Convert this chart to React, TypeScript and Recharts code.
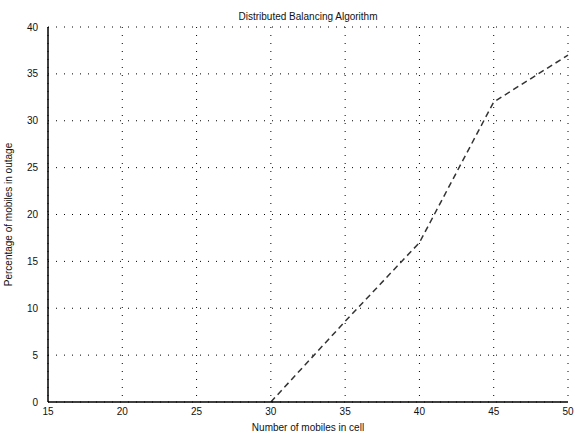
import { CartesianGrid, Label, Line, LineChart, XAxis, YAxis } from "recharts";

// Values.
const MOBILES = [30, 35, 40, 45, 48, 50];
const OUTAGE = [0, 8.6, 17, 32, 35, 37];

const X_TICKS = [15, 20, 25, 30, 35, 40, 45, 50];
const Y_TICKS = [0, 5, 10, 15, 20, 25, 30, 35, 40];

const FONT = '"Liberation Sans", Arial, sans-serif';

const data = MOBILES.map((m, i) => ({ mobiles: m, outage: OUTAGE[i] }));

const blank = () => "";

// shared props for the axes that only carry inward tick marks (matlab style box)
const xTickAxis = {
  dataKey: "mobiles",
  type: "number" as const,
  domain: [15, 50],
  ticks: X_TICKS,
  interval: 0,
  height: 0,
  mirror: true,
  tickSize: 5,
  tickFormatter: blank,
  stroke: "#000",
  strokeWidth: 1.5,
};

const yTickAxis = {
  type: "number" as const,
  domain: [0, 40],
  ticks: Y_TICKS,
  interval: 0,
  width: 0,
  mirror: true,
  tickSize: 5,
  tickFormatter: blank,
  stroke: "#000",
  strokeWidth: 1.5,
};

export default function App() {
  return (
    <div
      style={{
        position: "absolute",
        left: 0,
        top: 0,
        width: 578,
        height: 437,
        background: "#fff",
        fontFamily: FONT,
      }}
    >
      <div
        style={{
          position: "absolute",
          top: 11,
          left: 308,
          transform: "translateX(-50%)",
          fontSize: 10,
          whiteSpace: "nowrap",
          color: "#111",
        }}
      >
        Distributed Balancing Algorithm
      </div>
      <LineChart
        width={578}
        height={437}
        data={data}
        margin={{ top: 27, right: 10, bottom: 0, left: 0 }}
        style={{ fontFamily: FONT }}
      >
        <CartesianGrid
          xAxisId="bottom"
          yAxisId="left"
          stroke="#000"
          strokeDasharray="1 7"
          strokeWidth={1}
        />
        <XAxis xAxisId="bottomTicks" orientation="bottom" {...xTickAxis} />
        <XAxis
          xAxisId="bottom"
          dataKey="mobiles"
          type="number"
          domain={[15, 50]}
          ticks={X_TICKS}
          interval={0}
          height={35}
          tickLine={false}
          tickMargin={0}
          tick={{ fontSize: 10, fill: "#111" }}
          stroke="#000"
          strokeWidth={1.5}
        >
          <Label
            value="Number of mobiles in cell"
            position="insideBottom"
            offset={6}
            style={{ fontSize: 10, fill: "#111" }}
          />
        </XAxis>
        <XAxis xAxisId="top" orientation="top" {...xTickAxis} />
        <YAxis yAxisId="leftTicks" orientation="left" {...yTickAxis} />
        <YAxis
          yAxisId="left"
          type="number"
          domain={[0, 40]}
          ticks={Y_TICKS}
          interval={0}
          width={48}
          tickLine={false}
          tickMargin={4}
          tick={{ fontSize: 10, fill: "#111" }}
          stroke="#000"
          strokeWidth={1.5}
        >
          <Label
            value="Percentage of mobiles in outage"
            angle={-90}
            position="insideLeft"
            offset={8}
            style={{ fontSize: 10, fill: "#111", textAnchor: "middle" }}
          />
        </YAxis>
        <YAxis yAxisId="right" orientation="right" {...yTickAxis} />
        <Line
          xAxisId="bottom"
          yAxisId="left"
          dataKey="outage"
          type="linear"
          stroke="#333"
          strokeWidth={1.5}
          strokeDasharray="6 4"
          dot={false}
          isAnimationActive={false}
        />
      </LineChart>
    </div>
  );
}
